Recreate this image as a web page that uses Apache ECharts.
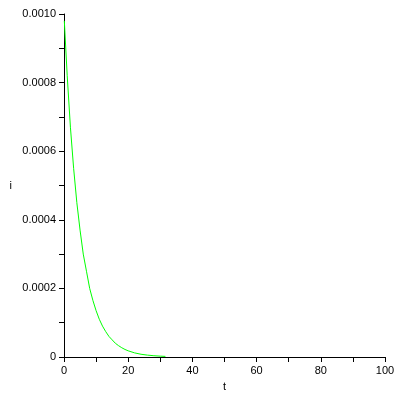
<!DOCTYPE html>
<html>
<head>
<meta charset="utf-8">
<script src="https://cdn.jsdelivr.net/npm/echarts@6/dist/echarts.min.js"></script>
<style>html,body{margin:0;padding:0;background:#fff;}#c{width:400px;height:400px;}</style>
</head>
<body>
<div id="c"></div>
<script>
var tValues = [0.1, 1, 2, 3, 4, 5, 6, 7, 8, 9, 10, 11, 12, 13, 14, 15, 16, 17, 18, 19, 20, 22, 24, 26, 28, 30, 31.6];
var iValues = [0.00098, 0.00082, 0.00067, 0.00055, 0.00045, 0.00037, 0.00030, 0.00025, 0.00020, 0.000165, 0.000135, 0.00011, 0.00009, 0.000074, 0.00006, 0.00005, 0.00004, 0.000033, 0.000027, 0.000022, 0.000018, 0.000012, 0.000008, 0.0000055, 0.0000037, 0.0000025, 0.0000018];
var xTicks = ['0', '20', '40', '60', '80', '100'];
var yTicks = ['0', '0.0002', '0.0004', '0.0006', '0.0008', '0.0010'];

var data = tValues.map(function (t, k) { return [t, iValues[k]]; });
var font = '"Liberation Sans", Arial, sans-serif';
var chart = echarts.init(document.getElementById('c'));
chart.setOption({
  animation: false,
  backgroundColor: '#ffffff',
  grid: { left: 64, right: 15, top: 14, bottom: 43 },
  xAxis: {
    type: 'value', min: 0, max: 100, interval: 20,
    name: 't', nameLocation: 'middle', nameGap: 24,
    nameTextStyle: { color: '#000', fontFamily: font, fontSize: 11 },
    axisLine: { show: true, lineStyle: { color: '#000', width: 1 } },
    axisTick: { show: true, length: 5, lineStyle: { color: '#000' } },
    minorTick: { show: true, splitNumber: 2, length: 5, lineStyle: { color: '#000' } },
    splitLine: { show: false },
    axisLabel: { color: '#000', fontFamily: font, fontSize: 11, margin: 8,
      formatter: function (v) { return xTicks[Math.round(v / 20)]; } }
  },
  yAxis: {
    type: 'value', min: 0, max: 0.001, interval: 0.0002,
    name: 'i', nameLocation: 'middle', nameGap: 52, nameRotate: 0,
    nameTextStyle: { color: '#000', fontFamily: font, fontSize: 11 },
    axisLine: { show: true, lineStyle: { color: '#000', width: 1 } },
    axisTick: { show: true, length: 5, lineStyle: { color: '#000' } },
    minorTick: { show: true, splitNumber: 2, length: 5, lineStyle: { color: '#000' } },
    splitLine: { show: false },
    axisLabel: { color: '#000', fontFamily: font, fontSize: 11, margin: 8,
      formatter: function (v) { return yTicks[Math.round(v / 0.0002)]; } }
  },
  series: [{
    type: 'line', data: data, showSymbol: false, smooth: false,
    lineStyle: { color: '#00ff00', width: 1 }, clip: true
  }]
});
</script>
</body>
</html>
